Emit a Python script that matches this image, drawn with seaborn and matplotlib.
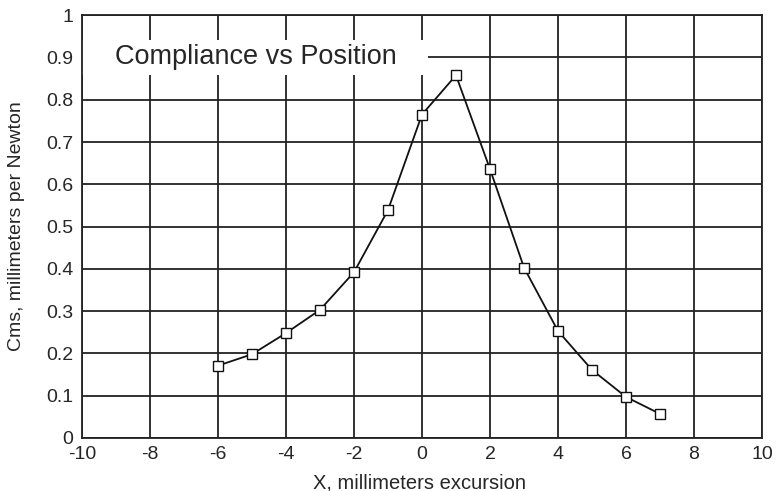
import numpy as np
import pandas as pd
import seaborn as sns
import matplotlib.pyplot as plt
from matplotlib.patches import Rectangle

# values
x_mm = [-6, -5, -4, -3, -2, -1, 0, 1, 2, 3, 4, 5, 6, 7]
cms = [0.171, 0.198, 0.248, 0.303, 0.392, 0.539, 0.765, 0.858,
       0.636, 0.403, 0.253, 0.161, 0.097, 0.057]
x_ticks = list(range(-10, 11, 2))
y_ticks = [round(v * 0.1, 1) for v in range(11)]
y_labels = ["0", "0.1", "0.2", "0.3", "0.4", "0.5", "0.6", "0.7", "0.8", "0.9", "1"]

data = pd.DataFrame({"x": x_mm, "cms": cms})

sns.set_style("white")
plt.rcParams['font.family'] = ['Liberation Sans', 'DejaVu Sans']

fig = plt.figure(figsize=(7.8, 4.91), dpi=100)
ax = fig.add_axes([0.105, 0.108, 0.872, 0.861])

sns.lineplot(data=data, x="x", y="cms", ax=ax, color="#111111", linewidth=1.3,
             marker="s", markersize=7, markerfacecolor="white",
             markeredgecolor="#111111", markeredgewidth=1.0, zorder=4)

ax.set_xlim(-10, 10)
ax.set_ylim(0, 1)
ax.set_xticks(x_ticks)
ax.set_xticklabels([str(t) for t in x_ticks])
ax.set_yticks(y_ticks)
ax.set_yticklabels(y_labels)
ax.grid(True, color="#222222", linewidth=1.3)
ax.set_axisbelow(True)
for s in ax.spines.values():
    s.set_color("#222222")
    s.set_linewidth(1.3)
ax.tick_params(axis="both", direction="out", length=5, width=1.2,
               color="#222222", labelsize=14, pad=1)

ax.set_xlabel("X, millimeters excursion", fontsize=14.5)
ax.set_ylabel("Cms, millimeters per Newton", fontsize=14)
ax.xaxis.set_label_coords(0.497, -0.084)
ax.yaxis.set_label_coords(-0.084, 0.5)

# white patch behind the title, like the original
ax.add_patch(Rectangle((0.0, 0.858), 0.509, 0.083, transform=ax.transAxes,
                       facecolor="white", edgecolor="none", zorder=2))
ax.text(0.049, 0.9, "Compliance vs Position", fontsize=19.5, va="center", ha="left",
        transform=ax.get_yaxis_transform(), zorder=3)

fig.savefig("out.png", dpi=100)
